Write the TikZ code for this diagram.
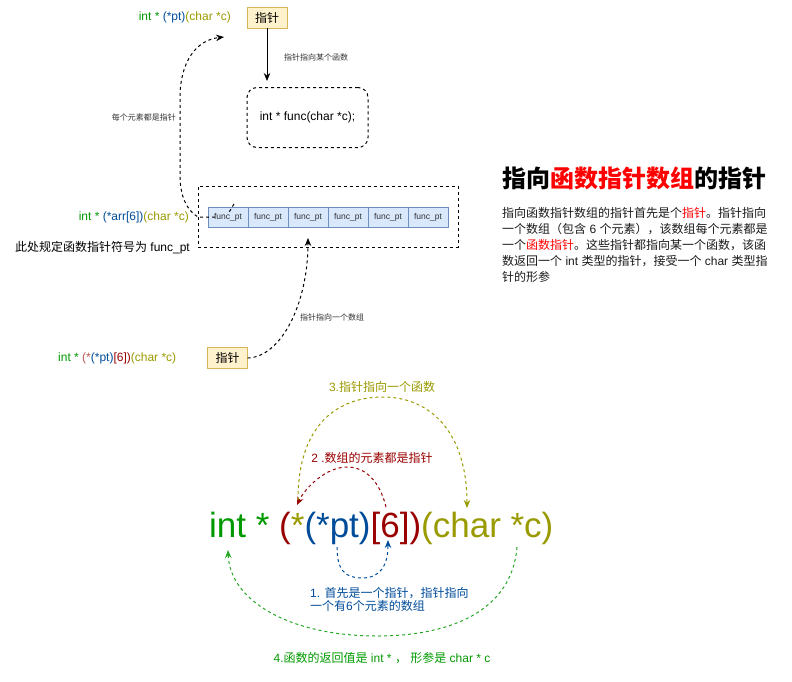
\documentclass[tikz,border=0pt]{standalone}
\usepackage{fontspec}
\setmainfont{Liberation Sans}
\newfontfamily\cjk{Noto Sans CJK SC}
\newcommand\zh[1]{{\cjk #1}}
\usetikzlibrary{arrows.meta}
\definecolor{cg}{HTML}{009900}
\definecolor{cb}{HTML}{004C99}
\definecolor{cy}{HTML}{999900}
\definecolor{cr}{HTML}{990000}
\definecolor{crl}{HTML}{B85450}
\definecolor{cellfill}{HTML}{DAE8FC}
\definecolor{celldraw}{HTML}{6C8EBF}
\definecolor{pfill}{HTML}{FFF2CC}
\definecolor{pdraw}{HTML}{D6B656}
\definecolor{lblgray}{HTML}{333333}
\begin{document}
\begin{tikzpicture}[x=1pt,y=-1pt,
  txt/.style={inner sep=0pt, font=\fontsize{12}{14}\selectfont},
  smalllbl/.style={inner sep=0pt, font=\fontsize{8}{10}\selectfont, text=lblgray},
  cellbox/.style={draw=celldraw, fill=cellfill, minimum width=40pt, minimum height=20pt, inner sep=0pt, font=\fontsize{8.5}{10}\selectfont, text=lblgray},
  ptrbox/.style={draw=pdraw, fill=pfill, minimum width=40pt, minimum height=21pt, inner sep=0pt, font=\fontsize{12}{14}\selectfont},
  dline/.style={dash pattern=on 3pt off 3pt, line width=1pt},
  tip/.style={-{Stealth[length=8pt,width=6.5pt]}},
]
\useasboundingbox (0,0) rectangle (792,681);

% ---------- top ----------
\node[txt, anchor=east] (toptext) at (231,17) {\textcolor{cg}{int * }\textcolor{cb}{(*pt)}\textcolor{cy}{(char *c)}};
\node[ptrbox] (p1) at (267,17.5) {\zh{指针}};
\node[draw, dline, rounded corners=10pt, minimum width=121pt, minimum height=60pt, inner sep=0pt] (func) at (307.5,117.5) {};
\node[txt] (functxt) at (307.5,117) {int * func(char *c);};
\draw[tip, line width=1pt] (p1.south) -- (267,81) coordinate (funcarr);
\node[smalllbl, anchor=west] (l1) at (284,57) {\zh{指针指向某个函数}};

% ---------- array ----------
\node[draw, dline, minimum width=260pt, minimum height=61pt, inner sep=0pt] (arrbox) at (328,216.5) {};
\foreach \i in {0,...,5}{
  \node[cellbox] (c\i) at (228+40*\i,217) {func\_pt};
}
\node[txt, anchor=east] (arrtxt) at (189,217.5) {\textcolor{cg}{int * }\textcolor{cb}{(*arr[6])}\textcolor{cy}{(char *c)}};
\node[txt, anchor=east] (note) at (190,247.5) {\zh{此处规定函数指针符号为} func\_pt};

\coordinate (a0) at (215,217);
\coordinate (atop) at (224,37);
\draw[dline, tip] (a0) -- (198,217) .. controls (186,210) and (180,195) .. (180,175) -- (180,98) .. controls (180,62) and (196,40) .. (atop);
\draw[dline] (234,204) -- (228,214);
\node[smalllbl, anchor=east] (l2) at (176,117) {\zh{每个元素都是指针}};

% ---------- middle ----------
\node[txt, anchor=west] (midtxt) at (58,358) {\textcolor{cg}{int * }\textcolor{crl}{(*}\textcolor{cb}{(*pt)}\textcolor{cr}{[6])}\textcolor{cy}{(char *c)}};
\node[ptrbox] (p2) at (227.5,358) {\zh{指针}};
\coordinate (arrin) at (308,238);
\draw[dline, tip] (p2.east) .. controls (281,357) and (308,304) .. (arrin);
\node[smalllbl, anchor=west, fill=white, inner xsep=1pt] (l3) at (299,317) {\zh{指针指向一个数组}};

% ---------- right text ----------
\node[inner sep=0pt, anchor=west, font=\fontsize{24}{28}\selectfont\bfseries] (title) at (502,178)
  {\zh{指向\textcolor{red}{函数指针数组}的指针}};
\node[inner sep=0pt, anchor=north west, align=left, font=\fontsize{12}{16}\selectfont, text=black!90] (para) at (502,207)
  {\zh{指向函数指针数组的指针首先是个\textcolor{red}{指针}。指针指向}\\
   \zh{一个数组（包含} 6 \zh{个元素），该数组每个元素都是}\\
   \zh{一个\textcolor{red}{函数指针}。这些指针都指向某一个函数，该函}\\
   \zh{数返回一个} int \zh{类型的指针，接受一个} char \zh{类型指}\\
   \zh{针的形参}};

% ---------- bottom ----------
\node[inner sep=0pt, anchor=base west, font=\fontsize{35}{40}\selectfont] (big) at (209,537)
  {\textcolor{cg}{int * }\textcolor{cr}{(}\textcolor{cy}{*}\textcolor{cb}{(*pt)}\textcolor{cr}{[6])}\textcolor{cy}{(char *c)}};

\coordinate (b1s) at (337,547);
\coordinate (b1e) at (388,540);
\draw[dline, draw=cb, tip] (b1s) .. controls (337,570) and (345,578) .. (362,578) .. controls (380,578) and (388,566) .. (b1e);

\coordinate (b2s) at (386,507);
\coordinate (b2e) at (297,505);
\draw[dline, draw=cr, tip] (b2s) .. controls (380,482) and (366,467) .. (347,467) .. controls (326,467) and (305,488) .. (b2e);

\coordinate (b3s) at (298,500);
\coordinate (b3e) at (467,508);
\draw[dline, draw=cy, tip] (b3s) .. controls (298,422) and (340,397) .. (383,397) .. controls (430,397) and (467,432) .. (b3e);

\coordinate (b4s) at (517,547);
\coordinate (b4e) at (228,550);
\draw[dline, draw=cg!85!white, tip] (b4s) .. controls (512,610) and (452,636) .. (377,636) .. controls (292,636) and (230,602) .. (b4e);

\node[txt, text=cy] (t3) at (382,387) {3.\zh{指针指向一个函数}};
\node[txt, text=cr] (t2) at (372,458) {2 .\zh{数组的元素都是指针}};
\node[txt, text=cb, anchor=north west, align=left, font=\fontsize{12}{13.5}\selectfont] (t1) at (310,587)
  {1. \zh{首先是一个指针，指针指向}\\ \zh{一个有}6\zh{个元素的数组}};
\node[txt, text=cg] (t4) at (382,658) {4.\zh{函数的返回值是} int * \zh{，} \zh{形参是} char * c};
\end{tikzpicture}
\end{document}
